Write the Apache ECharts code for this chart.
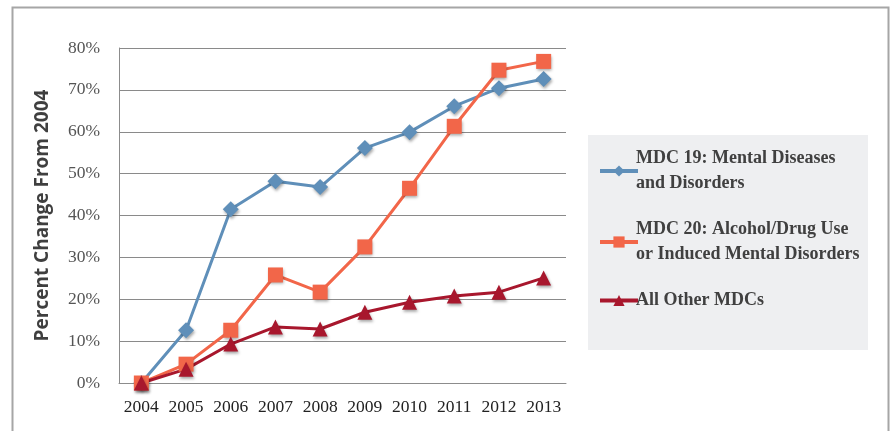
<!DOCTYPE html>
<html><head><meta charset="utf-8">
<script src="https://cdn.jsdelivr.net/npm/echarts@6/dist/echarts.min.js"></script>
<style>html,body{margin:0;padding:0;background:#fff}#c{width:891px;height:431px}</style>
</head><body><div id="c"></div>
<script>
const years = ['2004','2005','2006','2007','2008','2009','2010','2011','2012','2013'];
const mdc19 = [0, 12.6, 41.5, 48.2, 46.8, 56.1, 59.9, 66.1, 70.4, 72.6];
const mdc20 = [0, 4.5, 12.6, 25.8, 21.7, 32.5, 46.5, 61.3, 74.7, 76.8];
const other = [0, 3.3, 9.3, 13.4, 12.9, 16.9, 19.3, 20.8, 21.7, 25.1];
const names = ['MDC 19: Mental Diseases\nand Disorders', 'MDC 20: Alcohol/Drug Use\nor Induced Mental Disorders', 'All Other MDCs'];
const colors = ['#5f8fb9', '#f26649', '#a8172d'];

const chart = echarts.init(document.getElementById('c'));
const shadow = {shadowColor:'rgba(0,0,0,0.35)', shadowBlur:3, shadowOffsetX:1, shadowOffsetY:2};
function mk(name, data, color, symbol, size){
  return {type:'line', name, data, symbol, symbolSize:size, showAllSymbol:true,
    lineStyle:{color, width:3}, itemStyle:Object.assign({color}, shadow), animation:false};
}
chart.setOption({
  animation:false,
  graphic:[
    {type:'polyline', shape:{points:[[12.5,431],[12.5,7.5],[888.5,7.5],[888.5,431]]}, style:{stroke:'#a6a6a6', lineWidth:2, fill:null}, z:-1},
    {type:'rect', shape:{x:588, y:135, width:280, height:215}, style:{fill:'#eeeff1'}, z:-1}
  ],
  grid:{left:119, right:325, top:48, bottom:48},
  xAxis:{type:'category', data:years, boundaryGap:true,
    axisLine:{lineStyle:{color:'#8c8c8c', width:1}}, axisTick:{show:false},
    axisLabel:{interval:0, hideOverlap:false, fontFamily:'Liberation Serif', fontSize:17.5, color:'#222', margin:15}},
  yAxis:{type:'value', min:0, max:80, interval:10,
    name:'Percent Change From 2004', nameLocation:'middle', nameGap:67,
    nameTextStyle:{fontFamily:'Open Sans', fontWeight:'bold', fontSize:19, color:'#3f3f3f'},
    axisLine:{show:true, lineStyle:{color:'#8c8c8c'}}, axisTick:{show:false},
    splitLine:{lineStyle:{color:'#8a8a8a', width:1}},
    axisLabel:{formatter:'{value}%', fontFamily:'Liberation Serif', fontSize:17.5, color:'#555', margin:19}},
  legend:{orient:'vertical', left:593, top:141, itemWidth:38, itemHeight:14, itemGap:21,
    data:names, lineStyle:{width:4},
    textStyle:{fontFamily:'Liberation Serif', fontWeight:'bold', fontSize:18, color:'#404040', lineHeight:25, padding:[0,0,0,-7]}},
  series:[
    mk(names[0], mdc19, colors[0], 'diamond', 16),
    mk(names[1], mdc20, colors[1], 'rect', 15),
    mk(names[2], other, colors[2], 'triangle', 15)
  ]
});
</script></body></html>
